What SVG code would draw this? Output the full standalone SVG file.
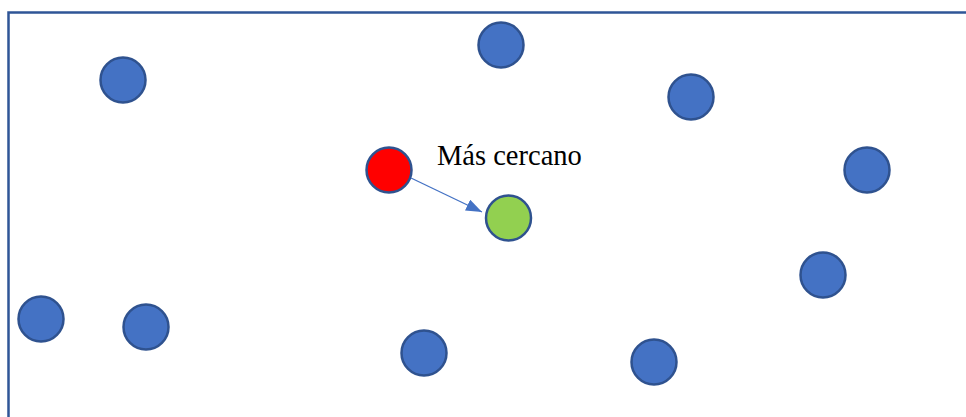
<svg xmlns="http://www.w3.org/2000/svg" width="966" height="417" viewBox="0 0 966 417">
<style>
.pt{fill:#4472C4;stroke:#2F528F;stroke-width:2.5}
.lbl{font-family:"Liberation Serif","Times New Roman",serif;font-size:28.5px;fill:#000}
</style>
<defs>
<marker id="ah" viewBox="0 0 16 12" refX="16" refY="6" markerWidth="16" markerHeight="12" markerUnits="userSpaceOnUse" orient="auto">
<path d="M0,0 L16,6 L0,12 z" fill="#4472C4"/>
</marker>
</defs>
<rect width="966" height="417" fill="#fff"/>
<rect x="8.5" y="12.5" width="1000" height="500" fill="none" stroke="#2F5597" stroke-width="2.5"/>
<g id="p1"><circle class="pt" cx="123" cy="80" r="22.5"/></g>
<g id="p2"><circle class="pt" cx="501" cy="45" r="22.5"/></g>
<g id="p3"><circle class="pt" cx="691" cy="97" r="22.5"/></g>
<g id="p4"><circle class="pt" cx="867" cy="170" r="22.5"/></g>
<g id="p7"><circle class="pt" cx="823" cy="275" r="22.5"/></g>
<g id="p8"><circle class="pt" cx="41" cy="319" r="22.5"/></g>
<g id="p9"><circle class="pt" cx="146" cy="327" r="22.5"/></g>
<g id="p10"><circle class="pt" cx="424" cy="353" r="22.5"/></g>
<g id="p11"><circle class="pt" cx="654" cy="362" r="22.5"/></g>
<g id="query"><circle cx="389" cy="170" r="22.5" fill="#FF0000" stroke="#2F528F" stroke-width="2.5"/></g>
<g id="nearest"><circle cx="508.5" cy="218" r="22.5" fill="#92D050" stroke="#2F528F" stroke-width="2.5"/></g>
<g id="connectors">
<line x1="411" y1="178" x2="482" y2="212" stroke="#4472C4" stroke-width="1.3" marker-end="url(#ah)"/>
</g>
<text class="lbl" x="437" y="165">Más cercano</text>
</svg>
